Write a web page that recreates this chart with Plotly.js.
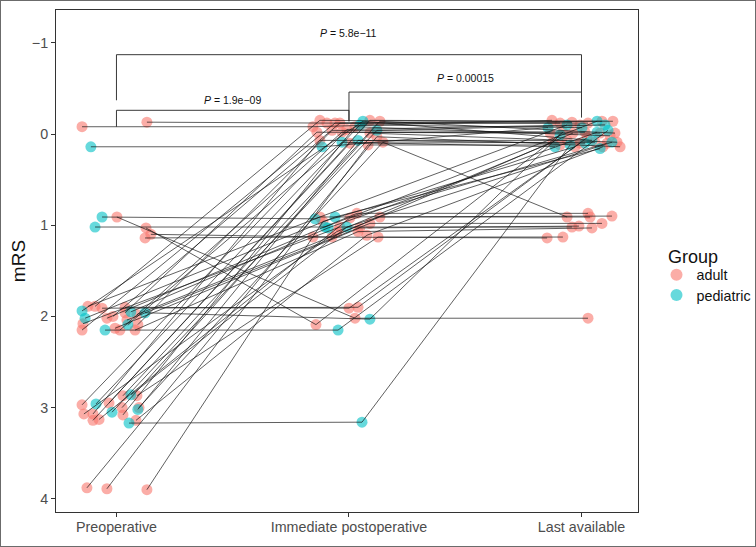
<!DOCTYPE html>
<html><head><meta charset="utf-8">
<script src="https://cdn.plot.ly/plotly-3.0.1.min.js"></script>
<style>
html,body{margin:0;padding:0;background:#fff}
#wrap{position:relative;width:756px;height:547px}
#chart{width:756px;height:547px}
#frame{position:absolute;left:0;top:0;width:756px;height:547px;box-sizing:border-box;border:1px solid #6b6b6b;pointer-events:none}
</style>
</head><body>
<div id="wrap"><div id="chart"></div><div id="frame"></div></div>
<script>
// time points (x categories)
const timepoints = ['Preoperative', 'Immediate postoperative', 'Last available'];
const yTicks = [-1, 0, 1, 2, 3, 4];

// one entry per patient
const group = [
 'pediatric','pediatric','pediatric','pediatric','pediatric','pediatric','pediatric',
 'pediatric','pediatric','pediatric','pediatric','pediatric','pediatric','pediatric',
 'adult','adult','adult','adult','adult','adult','adult','adult','adult','adult','adult','adult',
 'adult','adult','adult','adult','adult','adult','adult','adult','adult','adult','adult','adult',
 'adult','adult','adult','adult','adult','adult','adult','adult','adult','adult','adult','adult'
];
// jittered positions (x in category units, y = mRS)
const preX = [0.890,0.938,0.908,0.951,1.123,1.054,0.852,0.865,1.049,1.062,0.912,1.062,1.092,0.981,
 0.852,1.131,1.002,1.127,1.148,1.123,1.037,0.938,0.877,0.908,0.856,0.852,0.959,0.985,0.994,1.037,
 1.045,1.088,1.092,1.080,1.015,0.852,0.860,0.899,0.899,0.925,0.968,1.028,1.088,1.028,1.024,1.097,
 1.084,0.873,0.959,1.131];
const preY = [0.14,0.91,1.02,2.15,1.96,3.17,1.94,2.02,2.09,1.95,2.96,2.86,3.02,3.05,
 -0.08,-0.13,0.91,1.03,1.10,1.14,1.90,1.91,1.89,1.89,2.08,2.15,2.02,2.00,2.13,1.96,
 2.04,1.98,2.09,2.15,2.15,2.97,3.07,3.07,3.14,3.13,2.95,2.87,2.87,3.08,3.00,3.00,
 3.14,3.88,3.89,3.90];
const immX = [1.884,1.854,1.897,1.953,2.090,2.056,2.060,1.940,1.970,1.910,2.047,1.991,2.039,2.120,
 1.845,1.905,2.026,1.858,1.927,1.845,2.000,2.039,1.875,1.875,1.961,1.940,2.034,1.961,2.047,1.862,
 2.090,2.133,1.927,2.039,1.970,1.991,1.948,1.875,2.004,2.004,2.090,2.133,2.125,2.026,2.090,2.146,
 2.077,2.120,2.082,1.888];
const immY = [0.14,0.93,1.02,2.15,2.03,3.16,-0.14,0.91,0.09,1.03,-0.10,1.02,0.07,-0.04,
 -0.08,-0.12,2.02,2.09,1.13,1.13,1.91,1.90,0.91,-0.15,1.02,-0.12,0.87,-0.12,1.03,-0.02,
 0.98,0.91,-0.04,1.07,-0.02,-0.05,1.07,0.07,0.10,0.92,-0.15,-0.14,1.13,-0.08,-0.01,0.09,
 1.11,0.03,0.12,0.96];
const lastX = [2.856,2.938,3.067,3.114,2.908,2.951,3.045,3.080,2.886,3.067,3.002,3.131,3.015,3.101,
 2.873,2.908,3.028,2.920,2.963,2.852,2.994,3.024,3.131,2.959,2.959,3.028,3.028,3.088,2.989,2.865,
 3.088,3.037,3.015,3.045,3.080,2.994,2.877,2.938,3.058,3.110,3.135,3.144,2.920,3.123,3.153,2.938,
 3.092,3.166,2.908,2.972];
const lastY = [-0.07,-0.10,-0.14,-0.04,0.01,0.12,0.07,0.16,0.14,-0.02,-0.07,0.09,0.10,-0.10,
 -0.15,-0.12,2.02,-0.02,-0.01,1.14,0.10,0.04,0.90,-0.13,1.02,-0.12,0.87,-0.14,1.01,-0.01,
 0.98,0.91,-0.02,1.03,-0.01,-0.10,0.09,0.07,0.09,0.10,-0.14,-0.01,1.13,0.02,0.09,0.91,
 0.14,0.14,0.12,0.14];

// pairwise comparisons: [from, to, bracket level, tip ends, label level, p text]
const compFrom = [1, 2, 1];
const compTo = [2, 3, 3];
const compLevel = [-0.26, -0.46, -0.87];
const compTipL = [-0.08, -0.14, -0.37];
const compTipR = [-0.14, -0.18, -0.46];
const compLabelY = [-0.37, -0.61, -1.11];
const compP = ['1.9e\u221209', '0.00015', '5.8e\u221211'];

const groups = ['adult', 'pediatric'];
const colors = {adult: '#F8766D', pediatric: '#00BFC4'};
const legendIds = {adult: 'legend', pediatric: 'legend2'};

const traces = [];
groups.forEach(g => {
  const xs = [], ys = [];
  group.forEach((gg, i) => {
    if (gg !== g) return;
    xs.push(preX[i], immX[i], lastX[i]);
    ys.push(preY[i], immY[i], lastY[i]);
  });
  traces.push({type: 'scatter', mode: 'markers', name: g, x: xs, y: ys, legend: legendIds[g],
    marker: {color: colors[g], size: 11, opacity: 0.6, line: {width: 0}},
    hoverinfo: 'skip'});
});
// patient connecting lines
const lx = [], ly = [];
group.forEach((g, i) => {
  lx.push(preX[i], immX[i], lastX[i], null);
  ly.push(preY[i], immY[i], lastY[i], null);
});
traces.push({type: 'scatter', mode: 'lines', x: lx, y: ly, showlegend: false,
  line: {color: 'rgba(20,20,20,0.85)', width: 0.8}, hoverinfo: 'skip'});
// brackets
const bx = [], by = [];
const anns = [];
compFrom.forEach((f, k) => {
  const t = compTo[k];
  bx.push(f, f, t, t, null);
  by.push(compTipL[k], compLevel[k], compLevel[k], compTipR[k], null);
  anns.push({x: (f + t) / 2, y: compLabelY[k], xref: 'x', yref: 'y', showarrow: false,
    text: '<i>P</i> = ' + compP[k], font: {size: 10.5, color: '#111'}, yanchor: 'middle'});
});
traces.push({type: 'scatter', mode: 'lines', x: bx, y: by, showlegend: false,
  line: {color: '#222', width: 0.9}, hoverinfo: 'skip'});

anns.push({xref: 'paper', yref: 'paper', x: 1.048, y: 0.508, xanchor: 'left', yanchor: 'middle',
  showarrow: false, text: 'Group', font: {size: 18, color: '#111'}});

const legendBase = {xanchor: 'left', yanchor: 'middle', font: {size: 14.3, color: '#111'},
  bgcolor: 'rgba(0,0,0,0)', borderwidth: 0, itemsizing: 'constant'};

const layout = {
  width: 756, height: 547,
  margin: {l: 56, r: 118, t: 10, b: 35, autoexpand: false},
  paper_bgcolor: '#fff', plot_bgcolor: '#fff',
  font: {family: 'Liberation Sans, Arial, sans-serif', color: '#4d4d4d'},
  showlegend: true,
  legend: Object.assign({x: 1.0318, y: 0.472}, legendBase),
  legend2: Object.assign({x: 1.0318, y: 0.432}, legendBase),
  xaxis: {range: [0.74, 3.243], tickvals: [1, 2, 3], ticktext: timepoints,
    showgrid: false, zeroline: false, showline: true, mirror: true, linecolor: '#333', linewidth: 1,
    ticks: 'outside', ticklen: 4, tickcolor: '#333', ticklabelstandoff: -2,
    tickfont: {size: 14.3, color: '#4d4d4d'}},
  yaxis: {range: [4.145, -1.36], tickvals: yTicks, ticktext: yTicks.map(v => v < 0 ? '\u2212' + Math.abs(v) : String(v)),
    showgrid: false, zeroline: false, showline: true, mirror: true, linecolor: '#333', linewidth: 1,
    ticks: 'outside', ticklen: 4, tickcolor: '#333', tickfont: {size: 14.3, color: '#4d4d4d'},
    title: {text: 'mRS', font: {size: 19, color: '#111'}, standoff: 1}},
  annotations: anns
};
Plotly.newPlot('chart', traces, layout, {staticPlot: true, displayModeBar: false});
</script>
</body></html>
